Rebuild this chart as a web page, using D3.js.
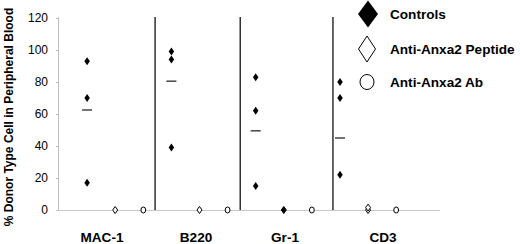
<!DOCTYPE html>
<html><head><meta charset="utf-8">
<script src="https://cdn.jsdelivr.net/npm/d3@7"></script>
<style>body{margin:0;background:#fff}svg{display:block;font-family:"Liberation Sans",Arial,sans-serif}</style>
</head><body><svg id="c" width="520" height="244"></svg>
<script>
const categories = ["MAC-1","B220","Gr-1","CD3"];
const controls = [[93,70,17],[99,94,39],[83,62,15],[80,70,22]];
const controlMeans = [62.5,80.5,49.5,45];
const peptide = [[0],[0],[0],[0,1.5]];
const antibody = [[0],[0],[0],[0]];
const yTicks = [0,20,40,60,80,100,120];
const dividers = [3.42,6.45,9.75];
const seriesNames = ["Controls","Anti-Anxa2 Peptide","Anti-Anxa2 Ab"];

const svg = d3.select("#c");
const x = d3.scaleLinear().domain([0,13.56]).range([59,440]);
const y = d3.scaleLinear().domain([0,120]).range([210,18]);

// y axis
const ya = svg.append("g").attr("transform","translate(59,0)")
  .call(d3.axisLeft(y).tickValues(yTicks).tickSize(3).tickPadding(8));
ya.select(".domain").attr("stroke","#bfbfbf").attr("d","M-0.5,17V210.5");
ya.selectAll(".tick line").attr("stroke","#bfbfbf");
ya.selectAll(".tick text").attr("font-size",12).attr("fill","#000")
  .attr("font-family","Liberation Sans, Arial, sans-serif");
// x baseline
svg.append("line").attr("x1",59).attr("x2",440).attr("y1",y(0)+0.5).attr("y2",y(0)+0.5)
  .attr("stroke","#c8c8c8");

// dividers
svg.selectAll("line.div").data(dividers).join("line").attr("class","div")
  .attr("x1",d=>x(d)).attr("x2",d=>x(d)).attr("y1",17).attr("y2",210)
  .attr("stroke","#222").attr("stroke-width",1.4);

// category labels
const labelX = [102,196,285,383];
svg.selectAll("text.cat").data(categories).join("text").attr("class","cat")
  .attr("x",(d,i)=>labelX[i]).attr("y",242).attr("text-anchor","middle")
  .attr("font-weight","bold").attr("font-size",13.6).text(d=>d);

// y title
svg.append("text").attr("transform","translate(13,117) rotate(-90)")
  .attr("text-anchor","middle").attr("font-weight","bold").attr("font-size",12)
  .text("% Donor Type Cell in Peripheral Blood");

const diamond = (w,h)=>`M0,${-h/2}L${w/2},0L0,${h/2}L${-w/2},0Z`;
const xpos = (c,s)=>x(c*3+s+1);

// controls
controls.forEach((vals,c)=>{
  svg.selectAll(null).data(vals).join("path")
    .attr("d",diamond(5.5,8)).attr("fill","#000")
    .attr("transform",v=>`translate(${xpos(c,0)},${y(v)})`);
});
// means
svg.selectAll("line.mean").data(controlMeans).join("line").attr("class","mean")
  .attr("x1",(d,i)=>xpos(i,0)-5).attr("x2",(d,i)=>xpos(i,0)+5)
  .attr("y1",d=>y(d)).attr("y2",d=>y(d)).attr("stroke","#444").attr("stroke-width",1.5);
// peptide
peptide.forEach((vals,c)=>{
  svg.selectAll(null).data(vals).join("path")
    .attr("d",diamond(5,7)).attr("fill",c===2?"#000":"#fff").attr("stroke","#000").attr("stroke-width",1)
    .attr("transform",v=>`translate(${xpos(c,1)},${y(v)})`);
});
// antibody
antibody.forEach((vals,c)=>{
  svg.selectAll(null).data(vals).join("ellipse")
    .attr("cx",xpos(c,2)).attr("cy",v=>y(v)).attr("rx",2.4).attr("ry",3)
    .attr("fill","#fff").attr("stroke","#000").attr("stroke-width",1);
});

// legend
const lg = svg.append("g");
lg.append("path").attr("d",diamond(20,27)).attr("fill","#000").attr("transform","translate(368,14)");
lg.append("path").attr("d",diamond(17,26)).attr("fill","#fff").attr("stroke","#000").attr("stroke-width",1).attr("transform","translate(367,49)");
lg.append("ellipse").attr("cx",367).attr("cy",82).attr("rx",7).attr("ry",7.5).attr("fill","#fff").attr("stroke","#000").attr("stroke-width",1);
const ly = [14,49,82];
lg.selectAll("text").data(seriesNames).join("text")
  .attr("x",390).attr("y",(d,i)=>ly[i]).attr("dy","0.35em")
  .attr("font-weight","bold").attr("font-size",13.6).text(d=>d);
</script></body></html>
